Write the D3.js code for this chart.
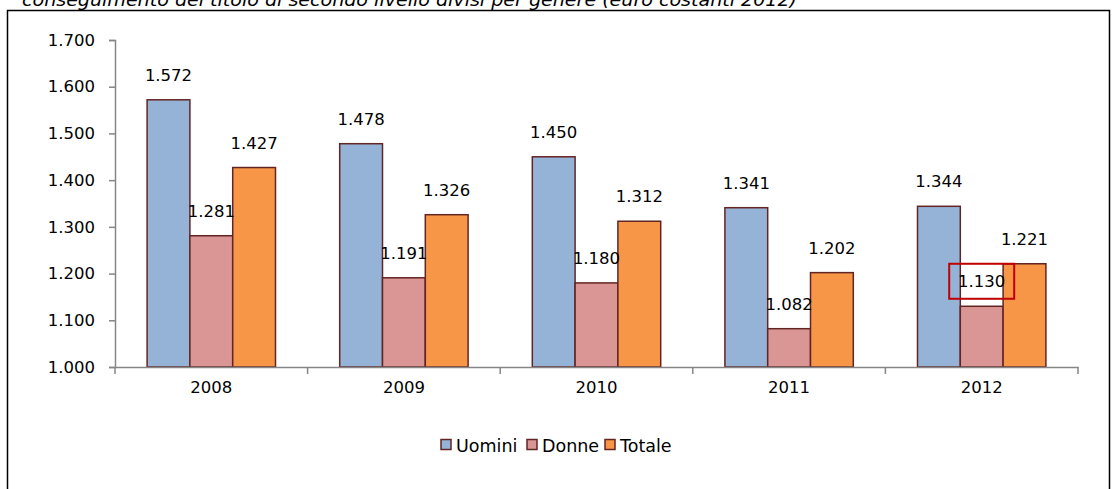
<!DOCTYPE html>
<html><head><meta charset="utf-8">
<script src="https://cdn.jsdelivr.net/npm/d3@7"></script>
<style>
html,body{margin:0;padding:0;background:#fff;}
svg{display:block;}
text{font-family:"DejaVu Sans",sans-serif;}
</style></head>
<body>
<script>
const title = "conseguimento del titolo di secondo livello divisi per genere (euro costanti 2012)";
const years = ["2008","2009","2010","2011","2012"];
const seriesNames = ["Uomini","Donne","Totale"];
const uomini = [1572,1478,1450,1341,1344];
const donne = [1281,1191,1180,1082,1130];
const totale = [1427,1326,1312,1202,1221];
const yTicks = [1000,1100,1200,1300,1400,1500,1600,1700];
const colors = ["#95B3D7","#D99694","#F79646"];
const highlightYear = "2012", highlightSeries = "Donne";

const W = 1112, H = 489;
const svg = d3.select("body").append("svg").attr("width",W).attr("height",H);

// frame
svg.append("rect").attr("x",7.5).attr("y",10.5).attr("width",1102).attr("height",520)
  .attr("fill","none").attr("stroke","#000").attr("stroke-width",1.5);
// title (cut at top as in the source)
svg.append("text").attr("x",22).attr("y",6).attr("font-style","italic")
  .attr("font-family","Liberation Sans").attr("font-size",17)
  .attr("textLength",775).attr("lengthAdjust","spacingAndGlyphs")
  .attr("fill","#000").text(title);

const x = d3.scaleBand().domain(years).range([115,1078]).padding(0);
const bw = x.bandwidth();
const xs = d3.scaleBand().domain(seriesNames).range([bw*0.75/4.5, bw*3.75/4.5]).padding(0);
const y = d3.scaleLinear().domain([1000,1700]).range([367,40]);
const fmt = d3.formatLocale({decimal:",",thousands:".",grouping:[3]}).format(",d");

const data = years.map((yr,i)=>({year:yr, values:[uomini[i],donne[i],totale[i]]}));

// bars
const g = svg.append("g");
data.forEach(d=>{
  d.values.forEach((v,j)=>{
    g.append("rect")
      .attr("x",x(d.year)+xs(seriesNames[j]))
      .attr("y",y(v))
      .attr("width",xs.bandwidth())
      .attr("height",y(1000)-y(v))
      .attr("fill",colors[j]).attr("stroke","#632523").attr("stroke-width",1.5);
  });
});

// y axis
const ya = svg.append("g").attr("transform","translate(115,0)")
  .call(d3.axisLeft(y).tickValues(yTicks).tickFormat(fmt).tickSize(6).tickPadding(14));
ya.selectAll("path,line").attr("stroke","#868686").attr("stroke-width",1.5);
ya.selectAll("text").attr("font-size",16.5).attr("fill","#000").attr("font-family","DejaVu Sans");

// x axis
const xa = svg.append("g").attr("transform","translate(0,367)")
  .call(d3.axisBottom(x).tickSize(0).tickPadding(14));
xa.select("path").attr("stroke","#868686").attr("stroke-width",1.5);
xa.selectAll("text").attr("font-size",16.5).attr("fill","#000").attr("font-family","DejaVu Sans");
const bounds = years.map(d=>x(d)).concat([x(years[years.length-1])+bw]);
svg.append("g").selectAll("line").data(bounds).join("line")
  .attr("x1",d=>d).attr("x2",d=>d).attr("y1",367).attr("y2",374)
  .attr("stroke","#868686").attr("stroke-width",1.5);

// data labels
data.forEach(d=>{
  d.values.forEach((v,j)=>{
    const cx = x(d.year)+xs(seriesNames[j])+xs.bandwidth()/2;
    svg.append("text").attr("x",cx).attr("y",y(v)-19)
      .attr("text-anchor","middle").attr("font-size",16.5).attr("fill","#000")
      .text(fmt(v));
    if(d.year===highlightYear && seriesNames[j]===highlightSeries){
      svg.append("rect").attr("x",cx-32.5).attr("y",y(v)-42.5).attr("width",65).attr("height",35)
        .attr("fill","none").attr("stroke","#C00000").attr("stroke-width",2);
    }
  });
});

// legend
const legendX = [441,527,605];
const lg = svg.append("g");
seriesNames.forEach((s,j)=>{
  lg.append("rect").attr("x",legendX[j]).attr("y",439.5).attr("width",10).attr("height",10)
    .attr("fill",colors[j]).attr("stroke","#632523").attr("stroke-width",1.5);
  lg.append("text").attr("x",legendX[j]+15).attr("y",451.5).attr("font-size",17.5).attr("fill","#000").text(s);
});
</script>
</body></html>
